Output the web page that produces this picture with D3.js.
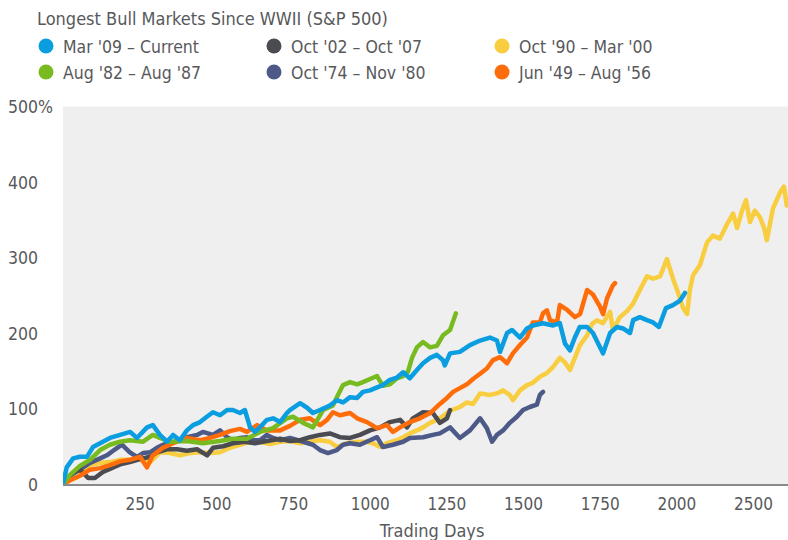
<!DOCTYPE html>
<html>
<head>
<meta charset="utf-8">
<script src="https://cdn.jsdelivr.net/npm/d3@7"></script>
<style>
  html, body { margin: 0; padding: 0; background: #fff; }
  svg text { font-family: "Liberation Sans Narrow", "DejaVu Sans Condensed", "Roboto", sans-serif; font-stretch: condensed; fill: #58595b; }
</style>
</head>
<body>
<div id="chart"></div>
<script>
// series: [trading day, % gain]
const mar09 = [[0,0],[12,22],[33,34],[55,36],[78,36],[98,49],[130,56],[153,61],[186,65],[219,69],[241,61],[274,75],[293,78],[316,65],[339,56],[359,65],[381,58],[404,71],[424,78],[447,82],[469,89],[489,95],[512,91],[535,98],[554,98],[577,94],[593,98],[610,75],[626,69],[642,75],[665,85],[685,87],[708,82],[730,94],[740,98],[773,107],[796,101],[815,94],[838,98],[870,104],[893,111],[913,108],[936,115],[959,114],[978,122],[1001,124],[1024,128],[1043,131],[1066,138],[1089,141],[1109,148],[1131,140],[1154,151],[1174,160],[1197,167],[1219,171],[1239,164],[1245,157],[1262,173],[1294,175],[1327,184],[1360,190],[1392,194],[1415,190],[1425,175],[1448,200],[1464,204],[1490,194],[1513,206],[1532,210],[1565,213],[1598,210],[1620,213],[1637,186],[1653,177],[1669,194],[1685,208],[1709,208],[1728,200],[1751,181],[1761,173],[1784,200],[1806,208],[1826,206],[1849,200],[1859,217],[1881,221],[1904,217],[1924,214],[1943,208],[1966,233],[1989,237],[2012,243],[2028,253]];
const oct02 = [[0,0],[13,7],[33,15],[55,19],[82,8],[104,8],[130,16],[153,20],[186,26],[218,29],[251,33],[284,36],[306,42],[339,46],[372,46],[404,44],[437,46],[470,38],[489,48],[522,50],[554,54],[593,56],[626,54],[665,57],[708,60],[740,57],[773,58],[805,62],[838,65],[870,67],[903,62],[936,61],[968,65],[1001,71],[1034,75],[1066,82],[1099,85],[1122,75],[1141,87],[1174,95],[1206,94],[1229,81],[1252,87],[1262,98]];
const oct90 = [[0,0],[23,5],[46,9],[65,15],[88,25],[121,28],[153,29],[186,32],[218,32],[251,32],[284,29],[316,42],[349,41],[381,38],[414,41],[447,42],[479,41],[512,42],[544,48],[577,52],[610,56],[642,56],[675,53],[708,56],[740,57],[773,54],[805,56],[838,58],[870,56],[893,49],[926,54],[959,56],[991,56],[1011,54],[1034,49],[1056,54],[1089,58],[1109,62],[1131,67],[1154,71],[1174,75],[1197,81],[1219,85],[1239,90],[1262,97],[1294,102],[1317,108],[1337,106],[1360,120],[1392,118],[1415,120],[1435,124],[1457,118],[1467,111],[1490,124],[1513,131],[1532,134],[1555,142],[1578,147],[1598,155],[1620,167],[1637,161],[1653,151],[1669,167],[1686,184],[1709,197],[1725,212],[1741,217],[1761,213],[1784,228],[1793,204],[1816,221],[1839,229],[1859,239],[1881,257],[1904,275],[1924,272],[1947,275],[1969,298],[1989,272],[2005,254],[2022,233],[2035,225],[2044,257],[2054,276],[2077,290],[2100,320],[2119,329],[2142,325],[2165,344],[2185,358],[2198,339],[2214,362],[2227,376],[2240,347],[2256,362],[2273,353],[2286,339],[2295,323],[2315,365],[2338,386],[2351,394],[2360,369]];
const aug82 = [[0,0],[23,12],[55,24],[88,32],[121,45],[153,52],[186,56],[218,58],[261,56],[293,65],[316,61],[349,56],[404,57],[456,54],[512,57],[554,60],[600,60],[642,69],[685,74],[730,87],[750,89],[783,81],[815,75],[848,98],[880,104],[893,115],[913,131],[936,135],[959,132],[978,135],[1001,139],[1024,143],[1043,130],[1066,132],[1089,140],[1109,143],[1125,149],[1138,167],[1154,181],[1174,188],[1197,181],[1219,183],[1239,197],[1262,204],[1281,226]];
const oct74 = [[0,0],[23,11],[55,19],[88,28],[121,34],[143,38],[170,46],[192,52],[218,42],[241,36],[261,41],[284,42],[306,48],[326,52],[349,54],[381,58],[404,62],[437,65],[456,69],[489,65],[512,71],[535,62],[554,58],[577,61],[600,62],[619,58],[642,58],[665,65],[685,61],[708,58],[740,61],[783,56],[815,52],[838,45],[864,41],[893,45],[913,52],[936,54],[968,52],[1001,58],[1024,62],[1043,49],[1076,52],[1109,56],[1131,61],[1174,62],[1206,65],[1229,67],[1262,75],[1294,61],[1327,71],[1360,87],[1382,74],[1399,56],[1415,65],[1435,71],[1457,81],[1480,89],[1500,98],[1522,102],[1545,105],[1555,118],[1565,122]];
const jun49 = [[0,0],[23,5],[55,11],[88,19],[121,21],[153,25],[186,30],[218,32],[251,36],[274,22],[293,38],[326,48],[359,54],[404,61],[447,58],[479,61],[512,65],[544,70],[577,73],[600,69],[633,78],[665,71],[708,71],[740,77],[773,85],[805,87],[838,78],[861,85],[880,95],[903,91],[936,94],[959,87],[991,82],[1024,74],[1056,78],[1076,69],[1099,75],[1131,82],[1164,87],[1197,94],[1229,106],[1252,114],[1272,122],[1294,127],[1317,132],[1337,139],[1360,146],[1382,153],[1402,164],[1425,168],[1448,160],[1467,173],[1490,184],[1513,194],[1532,214],[1555,214],[1565,226],[1578,230],[1588,217],[1611,214],[1620,237],[1643,231],[1669,221],[1686,225],[1709,257],[1728,251],[1751,235],[1761,225],[1774,246],[1793,263],[1800,266]];

const seriesNames = ["Mar '09 – Current", "Oct '02 – Oct '07", "Oct '90 – Mar '00", "Aug '82 – Aug '87", "Oct '74 – Nov '80", "Jun '49 – Aug '56"];
const seriesData = [mar09, oct02, oct90, aug82, oct74, jun49];
const seriesColors = ["#0a9ddf", "#4a4c51", "#f8cd3f", "#78bb20", "#4d5a88", "#ff6d0b"];
const drawOrder = [2, 4, 1, 5, 3, 0];

const yTicks = [0, 100, 200, 300, 400, 500];
const xTickValues = [250, 500, 750, 1000, 1250, 1500, 1750, 2000, 2250];
const xTickLabels = ["250", "500", "750", "1000", "1250", "1500", "1750", "2000", "2500"];

const width = 788, height = 540;
const plot = { left: 63, right: 788, top: 106.5, bottom: 484 };

const svg = d3.select("#chart").append("svg")
  .attr("width", width)
  .attr("height", height);

const x = d3.scaleLinear().domain([0, 2364]).range([plot.left, plot.right]);
const y = d3.scaleLinear().domain([0, 500]).range([plot.bottom, plot.top]);

// title
svg.append("text")
  .attr("x", 37).attr("y", 25)
  .attr("font-size", "18px")
  .text("Longest Bull Markets Since WWII (S&P 500)");

// legend
const legendX = [46, 274, 502];
const legendY = [46, 72];
seriesNames.forEach((name, i) => {
  const g = svg.append("g")
    .attr("transform", `translate(${legendX[i % 3]}, ${legendY[Math.floor(i / 3)]})`);
  g.append("circle").attr("r", 7.5).attr("fill", seriesColors[i]);
  g.append("text")
    .attr("x", 17).attr("y", 6.5)
    .attr("font-size", "17.5px")
    .text(name);
});

// plot background
svg.append("rect")
  .attr("x", plot.left).attr("y", plot.top)
  .attr("width", plot.right - plot.left)
  .attr("height", plot.bottom - plot.top + 1)
  .attr("fill", "#efefef");

svg.append("defs").append("clipPath").attr("id", "clip")
  .append("rect")
  .attr("x", plot.left).attr("y", plot.top - 10)
  .attr("width", plot.right - plot.left)
  .attr("height", plot.bottom - plot.top + 10);

// y axis
const yAxis = svg.append("g")
  .attr("transform", "translate(38,0)")
  .call(d3.axisLeft(y).tickValues(yTicks).tickSize(0).tickPadding(0));
yAxis.select(".domain").remove();
yAxis.selectAll("text")
  .attr("font-size", "17.5px")
  .attr("font-family", null)
  .attr("dy", "0.36em");
yAxis.selectAll(".tick").filter(d => d === 500)
  .append("text")
  .attr("x", 0).attr("dy", "0.36em")
  .attr("text-anchor", "start")
  .attr("font-size", "17.5px")
  .text("%");

// x axis
const xAxis = svg.append("g")
  .attr("transform", `translate(0, ${plot.bottom})`)
  .call(d3.axisBottom(x).tickValues(xTickValues)
    .tickFormat((d, i) => xTickLabels[i]).tickSize(0).tickPadding(14));
xAxis.select(".domain")
  .attr("d", `M${plot.left},1H${plot.right}`)
  .attr("stroke", "#8a8a8a")
  .attr("stroke-width", 2);
xAxis.selectAll("text")
  .attr("font-size", "17px")
  .attr("font-family", null);

svg.append("text")
  .attr("x", 432).attr("y", 537)
  .attr("text-anchor", "middle")
  .attr("font-size", "18px")
  .text("Trading Days");

// lines
const line = d3.line().x(d => x(d[0])).y(d => y(d[1]));
const lines = svg.append("g").attr("clip-path", "url(#clip)");
drawOrder.forEach(i => {
  lines.append("path")
    .datum(seriesData[i])
    .attr("fill", "none")
    .attr("stroke", seriesColors[i])
    .attr("stroke-width", 4.5)
    .attr("stroke-linejoin", "round")
    .attr("stroke-linecap", "round")
    .attr("d", line);
});
</script>
</body>
</html>
